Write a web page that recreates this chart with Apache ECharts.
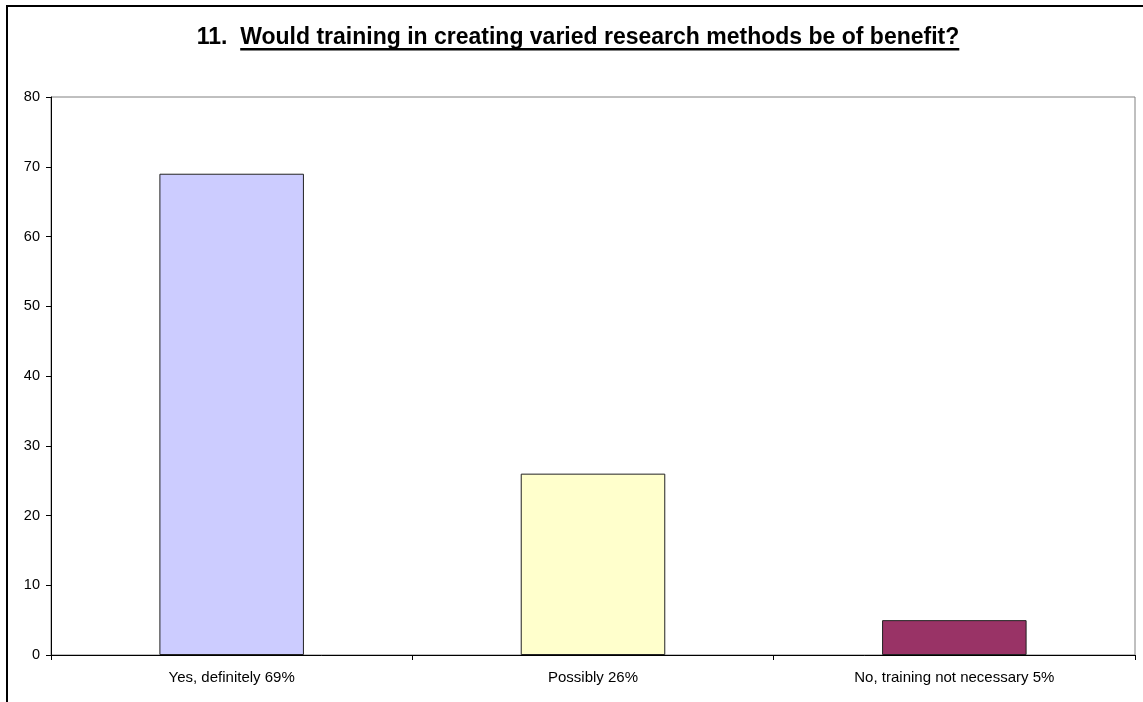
<!DOCTYPE html>
<html>
<head>
<meta charset="utf-8">
<script src="https://cdn.jsdelivr.net/npm/echarts@6/dist/echarts.min.js"></script>
<style>
  html, body { margin: 0; padding: 0; background: #fff; }
  #chart { width: 1143px; height: 702px; }
</style>
</head>
<body>
<div id="chart"></div>
<script>
// Survey question 11 responses (percent of respondents)
const categories = ['Yes, definitely 69%', 'Possibly 26%', 'No, training not necessary 5%'];
const values = [69, 26, 5];
const barColors = ['#CCCCFF', '#FFFFCC', '#993366'];
const yTicks = { min: 0, max: 80, interval: 10 };
const questionNumber = '11.';
const questionText = 'Would training in creating varied research methods be of benefit?';

const chart = echarts.init(document.getElementById('chart'), null, { renderer: 'canvas' });

const font = '"Liberation Sans", Arial, Helvetica, sans-serif';
const titleSize = 23;

// measure the title so the question part can be underlined
const ctx = document.createElement('canvas').getContext('2d');
ctx.font = 'bold ' + titleSize + 'px ' + font;
const numW = ctx.measureText(questionNumber + '  ').width;
const qW = ctx.measureText(questionText).width;
const titleLeft = 578 - (numW + qW) / 2;

const frame = [
  { type: 'line', shape: { x1: 7, y1: 6, x2: 1143, y2: 6 }, style: { stroke: '#000', lineWidth: 2 } },
  { type: 'line', shape: { x1: 7, y1: 5, x2: 7, y2: 702 }, style: { stroke: '#000', lineWidth: 2 } }
];

chart.setOption({
  backgroundColor: '#ffffff',
  animation: false,
  title: {
    text: '{num|' + questionNumber + '  }{q|' + questionText + '}',
    left: titleLeft,
    top: 26,
    padding: 0,
    textStyle: {
      rich: {
        num: { fontFamily: font, fontWeight: 'bold', fontSize: titleSize, color: '#000' },
        q: { fontFamily: font, fontWeight: 'bold', fontSize: titleSize, color: '#000' }
      }
    }
  },
  grid: {
    left: 51, right: 8, top: 97, bottom: 47,
    show: true,
    borderColor: '#808080',
    borderWidth: 1,
    backgroundColor: '#ffffff'
  },
  xAxis: {
    type: 'category',
    data: categories,
    axisLine: { show: true, lineStyle: { color: '#000', width: 1 } },
    axisTick: { show: true, length: 5, lineStyle: { color: '#000' } },
    axisLabel: { color: '#000', fontFamily: font, fontSize: 15, margin: 15 },
    splitLine: { show: false }
  },
  yAxis: {
    type: 'value',
    min: yTicks.min,
    max: yTicks.max,
    interval: yTicks.interval,
    axisLine: { show: true, lineStyle: { color: '#000', width: 1 } },
    axisTick: { show: true, length: 5, lineStyle: { color: '#000' } },
    axisLabel: { color: '#000', fontFamily: font, fontSize: 14.5, margin: 11 },
    splitLine: { show: false }
  },
  series: [{
    type: 'bar',
    data: values.map((v, i) => ({
      value: v,
      itemStyle: { color: barColors[i] }
    })),
    barWidth: '40%',
    itemStyle: { borderColor: '#222', borderWidth: 1 }
  }],
  graphic: frame.concat([
    { type: 'rect', shape: { x: titleLeft + numW, y: 48, width: qW, height: 2.5 }, style: { fill: '#000' } }
  ])
});
</script>
</body>
</html>
